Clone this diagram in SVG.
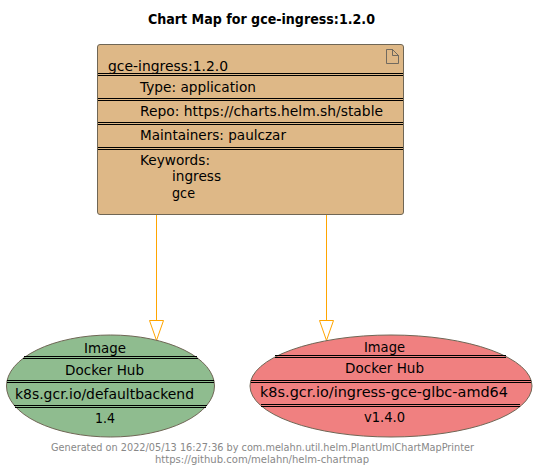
<svg xmlns="http://www.w3.org/2000/svg" width="536" height="472" viewBox="0 0 536 472">
<style>
text{font-family:"DejaVu Sans","Liberation Sans",sans-serif;font-size:14.5px;fill:#000}
.t{font-weight:bold;font-size:14px}
.f{font-size:10px;fill:#888}
.d{stroke:#000;stroke-width:1;fill:none}
.c{stroke:#FFA500;stroke-width:1;fill:none}
.a{stroke:#FFA500;stroke-width:1;fill:#fff}
.n{stroke:#6f6655;stroke-width:1}
</style>
<rect width="536" height="472" fill="#fff"/>
<text class="t" x="148" y="24" textLength="227" lengthAdjust="spacingAndGlyphs">Chart Map for gce-ingress:1.2.0</text>
<g id="connectors">
<path class="c" d="M156.500 214.500V321"/><path class="a" d="M149.500 320.500H163.500L156.500 340.500Z"/>
<path class="c" d="M326.500 214.500V321"/><path class="a" d="M319.500 320.500H333.500L326.500 340.500Z"/>
</g>
<g id="chart">
<rect class="n" x="97.500" y="44.500" width="306" height="170" rx="2.500" fill="#DEB887"/>
<path d="M386.500 49.500H392.500L398.500 55.500V63.500H386.500ZM392.500 49.500V55.500H398.500" fill="none" stroke="#555" stroke-width=".8"/>
<path class="d" d="M98 73.500H403M98 75.500H403M98 98.500H403M98 100.500H403M98 122.500H403M98 124.500H403M98 147.500H403M98 149.500H403"/>
<text x="108" y="71" textLength="120" lengthAdjust="spacingAndGlyphs">gce-ingress:1.2.0</text>
<text x="140" y="92" textLength="116" lengthAdjust="spacingAndGlyphs">Type: application</text>
<text x="140" y="116" textLength="243" lengthAdjust="spacingAndGlyphs">Repo: https://charts.helm.sh/stable</text>
<text x="140" y="140" textLength="146" lengthAdjust="spacingAndGlyphs">Maintainers: paulczar</text>
<text x="140" y="165" textLength="70" lengthAdjust="spacingAndGlyphs">Keywords:</text>
<text x="172" y="181" textLength="49" lengthAdjust="spacingAndGlyphs">ingress</text>
<text x="172" y="198" textLength="23" lengthAdjust="spacingAndGlyphs">gce</text>
</g>
<g id="image1">
<ellipse class="n" cx="110.500" cy="386" rx="104" ry="51" fill="#8FBC8F"/>
<path class="d" d="M24 356.500H197M23 358.500H198M7 380.500H214M7 382.500H214M14 405.500H207M15 407.500H206"/>
<text x="84" y="353" textLength="42" lengthAdjust="spacingAndGlyphs">Image</text>
<text x="65" y="375" textLength="79" lengthAdjust="spacingAndGlyphs">Docker Hub</text>
<text x="15" y="399" textLength="179" lengthAdjust="spacingAndGlyphs">k8s.gcr.io/defaultbackend</text>
<text x="95" y="423" textLength="20" lengthAdjust="spacingAndGlyphs">1.4</text>
</g>
<g id="image2">
<ellipse class="n" cx="391" cy="386" rx="141" ry="51" fill="#F08080"/>
<path class="d" d="M275 355.500H506M275 357.500H506M251 380.500H531M251 382.500H531M261 404.500H520M261 406.500H520"/>
<text x="364" y="352" textLength="41" lengthAdjust="spacingAndGlyphs">Image</text>
<text x="345" y="373" textLength="79" lengthAdjust="spacingAndGlyphs">Docker Hub</text>
<text x="260" y="397" textLength="248" lengthAdjust="spacingAndGlyphs">k8s.gcr.io/ingress-gce-glbc-amd64</text>
<text x="364" y="422" textLength="41" lengthAdjust="spacingAndGlyphs">v1.4.0</text>
</g>
<text class="f" x="51" y="451" textLength="423" lengthAdjust="spacingAndGlyphs">Generated on 2022/05/13 16:27:36 by com.melahn.util.helm.PlantUmlChartMapPrinter</text>
<text class="f" x="155" y="463" textLength="214" lengthAdjust="spacingAndGlyphs">https://github.com/melahn/helm-chartmap</text>
</svg>
